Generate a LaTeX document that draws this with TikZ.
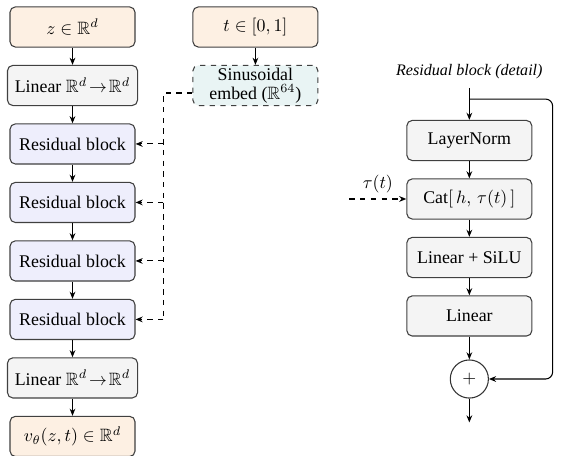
\documentclass[tikz,border=0pt]{standalone}
\usepackage{amsmath,amssymb}
\usepackage{fontspec}
\setmainfont{Liberation Serif}
\usetikzlibrary{positioning,arrows.meta,calc}

\definecolor{iofill}{HTML}{FDF0E3}
\definecolor{linfill}{HTML}{F4F4F4}
\definecolor{resfill}{HTML}{EEEEFC}
\definecolor{embfill}{HTML}{E9F4F4}

\begin{document}
\begin{tikzpicture}[
    box/.style={draw=black!75, line width=0.6pt, rounded corners=3pt,
      minimum width=2.46cm, minimum height=0.79cm, align=center,
      inner ysep=0.5pt, font=\fontsize{10}{10.6}\selectfont},
    iobox/.style={box, fill=iofill},
    linbox/.style={box, fill=linfill, minimum width=2.56cm},
    resbox/.style={box, fill=resfill},
    embbox/.style={box, dashed, fill=embfill},
    detbox/.style={box, fill=linfill},
    arr/.style={line width=0.6pt, -{Stealth[length=4pt,width=3.2pt]}},
    tarr/.style={arr, dashed},
    bus/.style={line width=0.8pt, dashed},
    node distance=0.34cm
  ]
  \useasboundingbox (-1.427,0.531) rectangle (9.614,-8.443);

  % main network
  \node[iobox] (z) at (0,0) {$z \in \mathbb{R}^d$};
  \node[linbox, below=of z] (linA) {Linear $\mathbb{R}^d \!\rightarrow\! \mathbb{R}^d$};
  \node[resbox, below=of linA] (res1) {Residual block};
  \node[resbox, below=of res1] (res2) {Residual block};
  \node[resbox, below=of res2] (res3) {Residual block};
  \node[resbox, below=of res3] (res4) {Residual block};
  \node[linbox, below=of res4] (linB) {Linear $\mathbb{R}^d \!\rightarrow\! \mathbb{R}^d$};
  \node[iobox, below=of linB] (out) {$v_\theta(z,t) \in \mathbb{R}^d$};

  \draw[arr] (z) -- (linA);
  \draw[arr] (linA) -- (res1);
  \draw[arr] (res1) -- (res2);
  \draw[arr] (res2) -- (res3);
  \draw[arr] (res3) -- (res4);
  \draw[arr] (res4) -- (linB);
  \draw[arr] (linB) -- (out);

  % time embedding
  \node[iobox] (t) at (3.6,0) {$t \in [0,1]$};
  \node[embbox, below=of t] (emb) {Sinusoidal\\embed ($\mathbb{R}^{64}$)};
  \draw[arr] (t) -- (emb);

  \draw[bus] ([yshift=-0.15cm]emb.west) -| ($(res4.east)+(0.55,0)$) coordinate (busEnd);
  \foreach \i in {1,...,4}
    \draw[tarr] (res\i.east -| busEnd) -- (res\i.east);

  % residual block detail
  \node[font=\small\itshape] (title) at (7.81,-0.886) {Residual block (detail)};
  \node[detbox] (ln) at (7.81,-2.234) {LayerNorm};
  \node[detbox, below=of ln] (cat) {Cat$[\,h,\,\tau(t)\,]$};
  \node[detbox, below=of cat] (silu) {Linear + SiLU};
  \node[detbox, below=of silu] (linC) {Linear};
  \node[circle, draw=black!80, line width=0.6pt, minimum size=0.75cm,
    below=0.45cm of linC] (sum) {$+$};
  \coordinate[above=0.63cm of ln] (inp);
  \coordinate[below=0.47cm of sum] (outp);
  \coordinate (skip) at ($(sum)+(1.64,0)$);

  \draw[arr] (inp) -- (ln);
  \draw[arr] (ln) -- (cat);
  \draw[arr] (cat) -- (silu);
  \draw[arr] (silu) -- (linC);
  \draw[arr] (linC) -- (sum);
  \draw[arr] (sum) -- (outp);
  \draw[arr, rounded corners=4pt] ([yshift=-0.22cm]inp) -| (skip) -- (sum.east);

  \coordinate[left=1.12cm of cat] (tauin);
  \draw[tarr] (tauin) -- (cat) node[midway, above] (taulbl) {$\tau(t)$};
\end{tikzpicture}
\end{document}
